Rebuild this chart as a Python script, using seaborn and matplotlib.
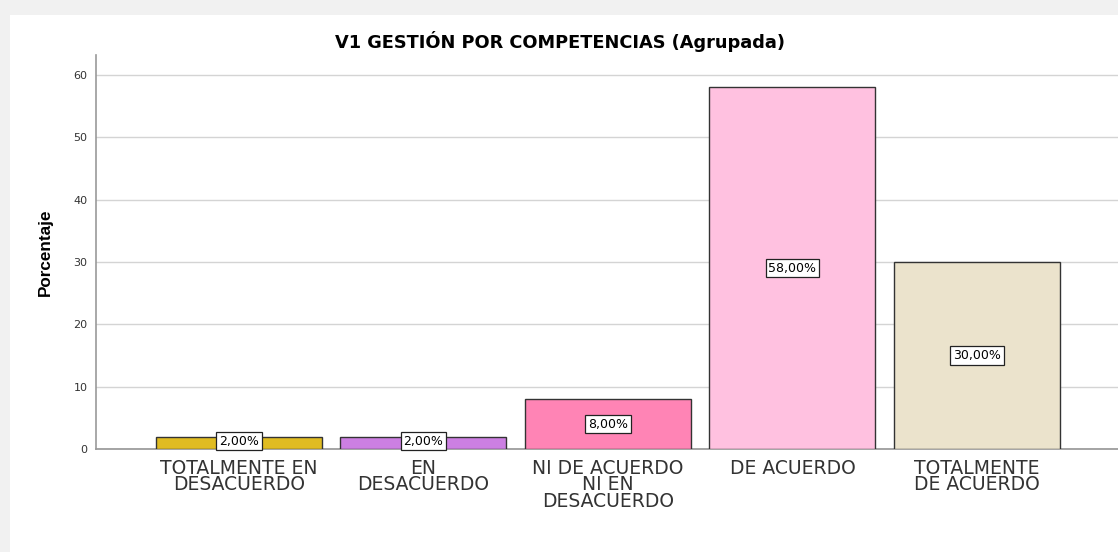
import matplotlib
matplotlib.use("Agg")
import matplotlib.pyplot as plt
import seaborn as sns
import pandas as pd
from matplotlib.patches import Rectangle

categories = ["TOTALMENTE EN\nDESACUERDO", "EN\nDESACUERDO", "NI DE ACUERDO\nNI EN\nDESACUERDO",
              "DE ACUERDO", "TOTALMENTE\nDE ACUERDO"]
values = [2.0, 2.0, 8.0, 58.0, 30.0]
bar_labels = ["2,00%", "2,00%", "8,00%", "58,00%", "30,00%"]
colors = ["#e0bc22", "#cc7fe2", "#ff84b5", "#ffc1e0", "#ebe3cc"]
yticks = [0, 10, 20, 30, 40, 50, 60]
title = "V1 GESTIÓN POR COMPETENCIAS (Agrupada)"
ylabel = "Porcentaje"

sns.set_theme(style="white")
plt.rcParams['font.family'] = ['DejaVu Sans']

df = pd.DataFrame({"cat": categories, "val": values})

fig = plt.figure(figsize=(11.18, 5.52), dpi=100)
fig.patch.set_facecolor("#f1f1f1")
fig.patches.append(Rectangle((10/1118, 0), 1, 1 - 15/552, transform=fig.transFigure,
                             facecolor="white", edgecolor="none", zorder=-10))
ax = fig.add_axes([96/1118, 1 - 449/552, 1 - 96/1118, (449 - 55)/552])
ax.set_facecolor("white")

sns.barplot(data=df, x="cat", y="val", hue="cat", palette=colors, legend=False,
            saturation=1, width=0.9, edgecolor="#333333", linewidth=1.0, ax=ax, zorder=3)

ax.set_xlim(-0.775, 4.765)
ax.set_ylim(0, 63.2)
ax.set_yticks(yticks)
ax.set_yticklabels([str(t) for t in yticks], fontsize=8, color="#333333")
ax.yaxis.grid(True, color="#d4d4d4", linewidth=1.0, zorder=0)
ax.set_axisbelow(True)
ax.tick_params(axis="y", length=4, color="#999999", pad=2)
ax.tick_params(axis="x", length=0, pad=7)
for lbl in ax.get_xticklabels():
    lbl.set_fontsize(13.5)
    lbl.set_color("#333333")
    lbl.set_linespacing(0.84)
for s in ["top", "right"]:
    ax.spines[s].set_visible(False)
ax.spines["left"].set_color("#999999")
ax.spines["bottom"].set_color("#999999")
ax.spines["left"].set_linewidth(1.2)
ax.set_xlabel("")
ax.set_ylabel(ylabel, fontsize=12.3, fontweight="bold", color="black",
              family=["Liberation Sans"])
ax.yaxis.set_label_coords(-43/1022, 0.5)

for i, (v, t) in enumerate(zip(values, bar_labels)):
    ax.text(i, v / 2 if v > 3 else 1.25, t, ha="center", va="center", fontsize=9, color="black",
            zorder=5, bbox=dict(boxstyle="square,pad=0.22", facecolor="white",
                                edgecolor="#222222", linewidth=0.9))

fig.text(560/1118, 1 - 41/552, title, ha="center", va="center", fontsize=12.8,
         fontweight="bold", color="black")

fig.savefig("out.png", dpi=100, facecolor=fig.get_facecolor())
